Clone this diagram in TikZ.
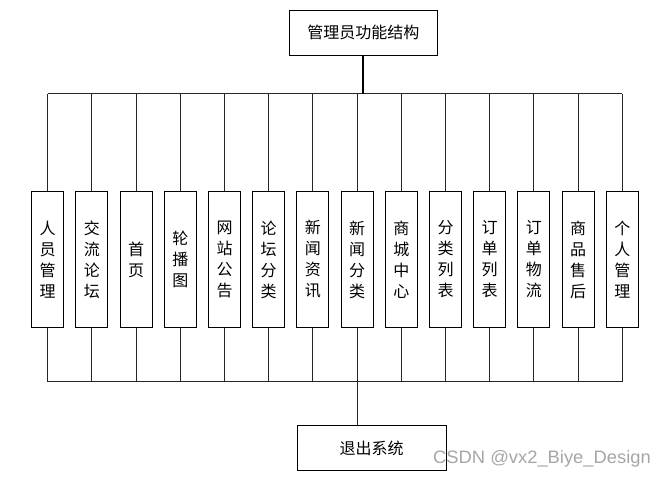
\documentclass[tikz,border=0pt]{standalone}
\usepackage{fontspec}
\newfontfamily\cjk{Noto Sans CJK SC}
\newfontfamily\wmfont{Liberation Sans}
\tikzset{
  topbox/.style={draw=black, line width=0.9pt, fill=white, minimum width=148.5pt, minimum height=44.5pt, inner sep=0pt, font=\cjk\fontsize{16}{18}\selectfont},
  funcbox/.style={draw=black, line width=0.9pt, fill=white, minimum width=32pt, minimum height=135.6pt, inner sep=0pt, align=center, font=\cjk\fontsize{16}{21}\selectfont},
  link/.style={draw=black!85, line width=0.9pt},
  mainlink/.style={draw=black, line width=1.7pt}
}
\begin{document}
\begin{tikzpicture}[x=1pt,y=-1pt]
\useasboundingbox (0,0) rectangle (665,479);
\node[topbox] (top) at (363.3,32.8) {管理员功能结构};
\node[topbox, minimum width=148.7pt, minimum height=45pt] (exit) at (371.7,448.2) {退出系统};
\coordinate (tbus) at (0,93.7);
\coordinate (bbus) at (0,381.7);
\foreach \i/\t in {1/人\\员\\管\\理, 2/交\\流\\论\\坛, 3/首\\页, 4/轮\\播\\图, 5/网\\站\\公\\告, 6/论\\坛\\分\\类, 7/新\\闻\\资\\讯, 8/新\\闻\\分\\类, 9/商\\城\\中\\心, 10/分\\类\\列\\表, 11/订\\单\\列\\表, 12/订\\单\\物\\流, 13/商\\品\\售\\后, 14/个\\人\\管\\理}{
  \node[funcbox] (b\i) at ({47.7+44.2*(\i-1)},259.5) {\t};
  \draw[link] (b\i.north) -- (b\i.north |- tbus);
  \draw[link] (b\i.south) -- (b\i.south |- bbus);
}
\draw[link] (b1.north |- tbus) -- (b14.north |- tbus);
\draw[link] (b1.south |- bbus) -- (b14.south |- bbus);
\draw[mainlink] (top.south) -- (top.south |- tbus);
\draw[link] (b8.south |- bbus) -- (b8.south |- exit.north);
\node[text=black!35, font=\wmfont\fontsize{18}{20}\selectfont, xscale=1.02, anchor=west, inner sep=0pt] (wm) at (433,459) {CSDN @vx2\_Biye\_Design};
\end{tikzpicture}
\end{document}
